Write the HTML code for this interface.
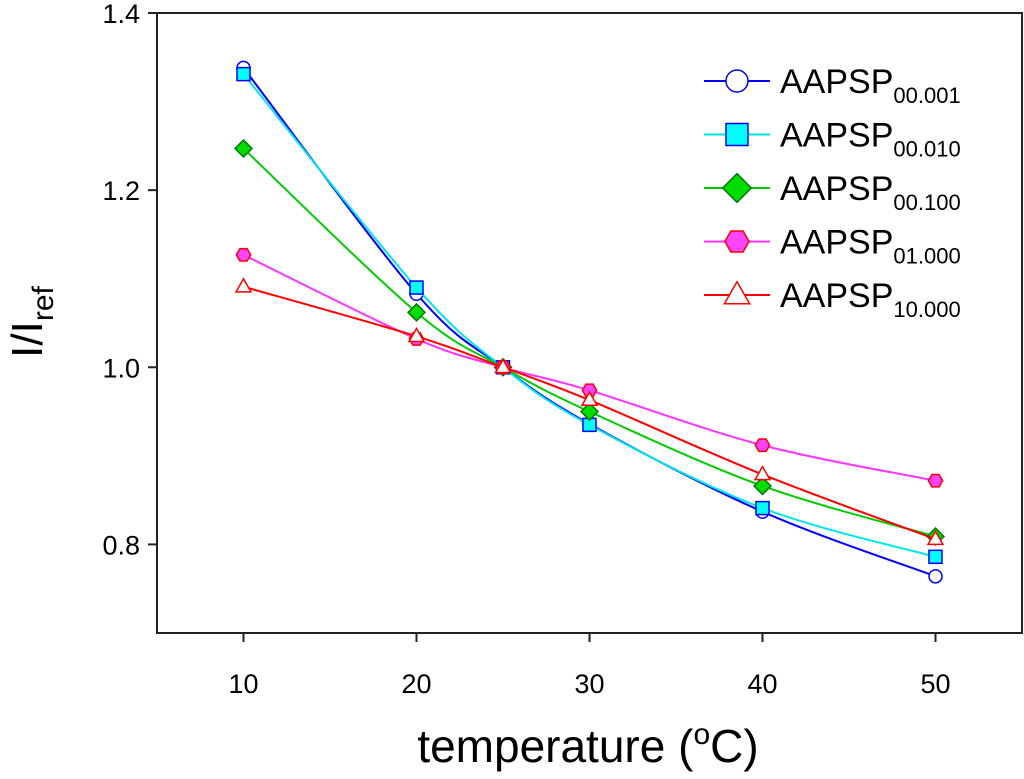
<!DOCTYPE html>
<html><head><meta charset="utf-8"><style>
body{margin:0;background:#fff}
svg{display:block;font-family:"Liberation Sans",Arial,sans-serif}
</style></head><body>
<svg id="chart" width="1024" height="779" viewBox="0 0 1024 779">
<rect x="157" y="13" width="865" height="620" fill="none" stroke="#222" stroke-width="2"/>
<g id="axes"></g><g id="series"></g><g id="legend"></g>
<text x="42" y="322" font-size="44" text-anchor="middle" transform="rotate(-90 42 322)">I/I<tspan font-size="30" dy="11">ref</tspan></text>
<text x="588" y="762" font-size="46" text-anchor="middle">temperature (<tspan font-size="30" dy="-18">o</tspan><tspan dy="18">C)</tspan></text>
</svg>
<script>
const temps=[10,20,25,30,40,50];
const s1=[1.338,1.083,1.0,0.936,0.837,0.764];
const s2=[1.331,1.090,1.0,0.935,0.841,0.786];
const s3=[1.247,1.062,1.0,0.950,0.866,0.809];
const s4=[1.127,1.032,1.0,0.974,0.912,0.872];
const s5=[1.091,1.035,1.0,0.963,0.879,0.806];
const seriesNames=["00.001","00.010","00.100","01.000","10.000"];
const xTicks=[10,20,30,40,50];
const yTicks=[0.8,1.0,1.2,1.4];
const NS="http://www.w3.org/2000/svg";
const X=v=>157+(v-5)*(865/50);
const Y=v=>633-(v-0.7)*(620/0.7);
function mk(t,a,p){const e=document.createElementNS(NS,t);for(const k in a)e.setAttribute(k,a[k]);p.appendChild(e);return e;}
const ax=document.getElementById('axes');
xTicks.forEach(t=>{const l=mk('line',{x1:X(t),x2:X(t),y1:633,y2:642,stroke:'#222','stroke-width':2},ax);

const tx=mk('text',{x:X(t),y:693,'font-size':27,'text-anchor':'middle'},ax);tx.textContent=t;
});
yTicks.forEach(t=>{const l=mk('line',{x1:148,x2:157,y1:Y(t),y2:Y(t),stroke:'#222','stroke-width':2},ax);

const tx=mk('text',{x:140,y:Y(t)+10,'font-size':27,'text-anchor':'end'},ax);tx.textContent=t.toFixed(1);
});
const styles=[{c:'#0000ff',f:'none',m:'circle'},{c:'#0000ff',lc:'#00e5ee',f:'#00ffff',m:'square'},{c:'#007700',lc:'#00cc00',f:'#00dd00',m:'diamond'},{c:'#ff0000',lc:'#ff33ff',f:'#ff44ff',m:'hex'},{c:'#ff0000',f:'none',m:'tri'}];
function marker(m,x,y,s,st,p){let e;const a={stroke:st.c,'stroke-width':1.5,fill:st.f==='none'?'#fff':st.f};
if(m==='circle')e=mk('circle',Object.assign({cx:x,cy:y,r:s},a),p);
else if(m==='square')e=mk('rect',Object.assign({x:x-s,y:y-s,width:2*s,height:2*s},a),p);
else{let pts=[];if(m==='diamond')pts=[[0,-1.3],[1.3,0],[0,1.3],[-1.3,0]];
else if(m==='tri')pts=[[0,-1.2],[1.15,0.8],[-1.15,0.8]];
else for(let i=0;i<6;i++){const an=Math.PI/3*i;pts.push([Math.cos(an)*1.1,Math.sin(an)*1.1]);}
e=mk('polygon',Object.assign({points:pts.map(q=>(x+q[0]*s)+','+(y+q[1]*s)).join(' ')},a),p);}
return e;}
function spline(px){let d='M'+px[0][0]+','+px[0][1];for(let i=0;i<px.length-1;i++){const p0=px[Math.max(0,i-1)],p1=px[i],p2=px[i+1],p3=px[Math.min(px.length-1,i+2)];
d+=' C'+(p1[0]+(p2[0]-p0[0])/6)+','+(p1[1]+(p2[1]-p0[1])/6)+' '+(p2[0]-(p3[0]-p1[0])/6)+','+(p2[1]-(p3[1]-p1[1])/6)+' '+p2[0]+','+p2[1];}return d;}
const sg=document.getElementById('series');
[s1,s2,s3,s4,s5].forEach((s,k)=>{const st=styles[k];const g=mk('g',{},sg);

const px=temps.map((t,i)=>[X(t),Y(s[i])]);
const p=mk('path',{d:spline(px),fill:'none',stroke:st.lc||st.c,'stroke-width':2},g);

px.forEach(q=>{const e=marker(st.m,q[0],q[1],6.5,st,g);});});
const lg=document.getElementById('legend');
styles.forEach((st,k)=>{const y=81+k*53.5;const g=mk('g',{},lg);

mk('line',{x1:704,x2:770,y1:y,y2:y,stroke:st.lc||st.c,'stroke-width':2},g);
marker(st.m,737,y,11,st,g);
const t=mk('text',{x:780,y:y+12,'font-size':34},g);t.textContent='AAPSP';
const sb=mk('tspan',{'font-size':22,dy:10},t);sb.textContent=seriesNames[k];});
</script>
</body></html>
